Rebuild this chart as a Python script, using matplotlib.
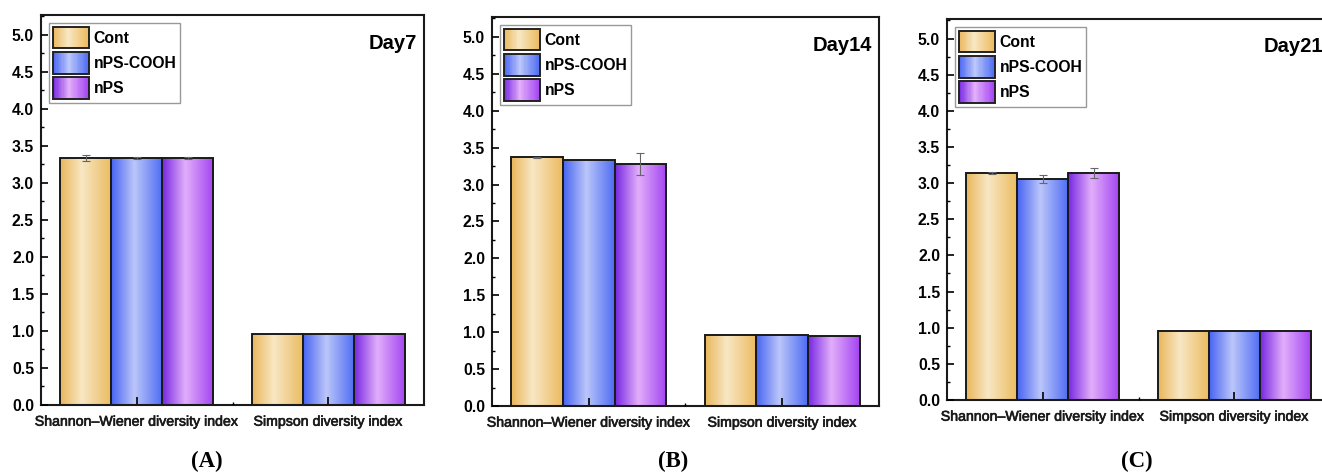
import numpy as np
import matplotlib
matplotlib.use("Agg")
import matplotlib.pyplot as plt
import matplotlib.patheffects as pe
from matplotlib.colors import LinearSegmentedColormap
from matplotlib.patches import Rectangle
from matplotlib.legend_handler import HandlerBase
from matplotlib.ticker import MultipleLocator, FixedLocator

plt.rcParams['font.family'] = ['Liberation Sans', 'DejaVu Sans']

# data
groups = ['Shannon\u2013Wiener diversity index', 'Simpson diversity index']
treatments = ['Cont', 'nPS-COOH', 'nPS']
days = ['Day7', 'Day14', 'Day21']
panel_tags = ['(A)', '(B)', '(C)']

# values[day][treatment] = [shannon, simpson]
day7_vals = [[3.34, 0.96], [3.34, 0.96], [3.34, 0.96]]
day7_err = [[0.04, 0.0], [0.01, 0.0], [0.01, 0.0]]
day14_vals = [[3.37, 0.96], [3.33, 0.96], [3.28, 0.955]]
day14_err = [[0.01, 0.0], [0.0, 0.0], [0.15, 0.0]]
day21_vals = [[3.14, 0.95], [3.055, 0.95], [3.14, 0.95]]
day21_err = [[0.01, 0.0], [0.06, 0.0], [0.07, 0.0]]

all_vals = [day7_vals, day14_vals, day21_vals]
all_err = [day7_err, day14_err, day21_err]

# horizontal gradient for each treatment (edge - light centre - edge)
grad_cmaps = [
    LinearSegmentedColormap.from_list('cont', [(0, '#E9B65A'), (0.42, '#F8E7C4'), (1, '#EBBA5E')]),
    LinearSegmentedColormap.from_list('cooh', [(0, '#4763F2'), (0.45, '#BBC6FA'), (1, '#4D6BF3')]),
    LinearSegmentedColormap.from_list('nps', [(0, '#7626E2'), (0.45, '#E2AEFA'), (1, '#A243F2')]),
]


class GradHandler(HandlerBase):
    def __init__(self, cmap):
        super().__init__()
        self.cmap = cmap

    def create_artists(self, legend, orig_handle, xdescent, ydescent,
                       width, height, fontsize, trans):
        arts = []
        n = 30
        for k in range(n):
            r = Rectangle((-xdescent + width * k / n, -ydescent), width / n + 0.3, height,
                          facecolor=self.cmap((k + 0.5) / n), edgecolor='none',
                          transform=trans)
            arts.append(r)
        edge = Rectangle((-xdescent, -ydescent), width, height, facecolor='none',
                         edgecolor='#222222', linewidth=1.4, transform=trans)
        arts.append(edge)
        return arts


fig = plt.figure(figsize=(13.22, 4.74), dpi=100)
W, H = 1322, 474
# axes rectangles in pixels: left, top, right, bottom
boxes = [(41, 15, 424, 405), (492, 17, 879, 406), (947, 19, 1330, 400)]
tag_x = [207, 673, 1137]

grad = np.linspace(0, 1, 256).reshape(1, -1)
x = np.arange(1, len(groups) + 1)
bw = 0.8 / len(treatments)

for d in range(3):
    l, t, r, b = boxes[d]
    ax = fig.add_axes([l / W, 1 - b / H, (r - l) / W, (b - t) / H])
    ax.set_axisbelow(False)
    handles = []
    for i, tr in enumerate(treatments):
        vals = np.array(all_vals[d][i])
        errs = np.array(all_err[d][i])
        pos = x + (i - 1) * bw
        bars = ax.bar(pos, vals, bw, facecolor='none', edgecolor='#1a1a1a',
                      linewidth=1.4, zorder=3, label=tr)
        for p in bars.patches:
            im = ax.imshow(grad, cmap=grad_cmaps[i], aspect='auto',
                           extent=(p.get_x(), p.get_x() + p.get_width(), 0, p.get_height()),
                           zorder=2, interpolation='bilinear')
            im.set_clip_path(p)
        for xi, v, e in zip(pos, vals, errs):
            if e > 0:
                ax.errorbar(xi, v, yerr=e, fmt='none', ecolor='#666666',
                            elinewidth=0.8, capsize=2.8, capthick=0.8, zorder=4)
        handles.append(bars)

    ax.set_xlim(0.5, 2.5)
    ax.set_ylim(0, 5.27)
    ax.set_xticks(x)
    xl = ax.set_xticklabels(groups, color='#1a1a1a', fontsize=10.2)
    for t_ in xl:
        t_.set_path_effects([pe.withStroke(linewidth=0.45, foreground='#1a1a1a')])
    ax.xaxis.set_minor_locator(FixedLocator([1.5]))
    ax.yaxis.set_major_locator(MultipleLocator(0.5))
    ax.yaxis.set_minor_locator(MultipleLocator(0.25))
    ax.set_yticklabels([f'{v:.1f}' for v in ax.get_yticks()], fontsize=11.3, fontweight='bold')
    ax.tick_params(axis='both', which='major', direction='in', length=5, width=1.2, pad=5)
    ax.tick_params(axis='both', which='minor', direction='in', length=2.5, width=1.0)
    ax.tick_params(axis='x', which='major', length=5.5, pad=7)
    for s in ax.spines.values():
        s.set_linewidth(1.5)
        s.set_color('#1a1a1a')

    leg = ax.legend(handles, treatments, loc='upper left',
                    handler_map={h: GradHandler(grad_cmaps[k]) for k, h in enumerate(handles)},
                    prop={'weight': 'bold', 'size': 11.3}, handlelength=2.3,
                    handleheight=1.75, labelspacing=0.22, handletextpad=0.3,
                    borderpad=0.25, borderaxespad=0.5, fancybox=False, framealpha=1)
    leg.get_frame().set_edgecolor('#999999')
    leg.get_frame().set_linewidth(1.0)

    ax.text(0.982, 0.928, days[d], transform=ax.transAxes, ha='right', va='center',
            fontsize=14.5, fontweight='bold')

    fig.text(tag_x[d] / W, 1 - 461 / H, panel_tags[d], ha='center', va='center',
             fontsize=16.5, fontweight='bold', family=['Liberation Serif', 'DejaVu Serif'])

fig.savefig('out.png', dpi=100)
